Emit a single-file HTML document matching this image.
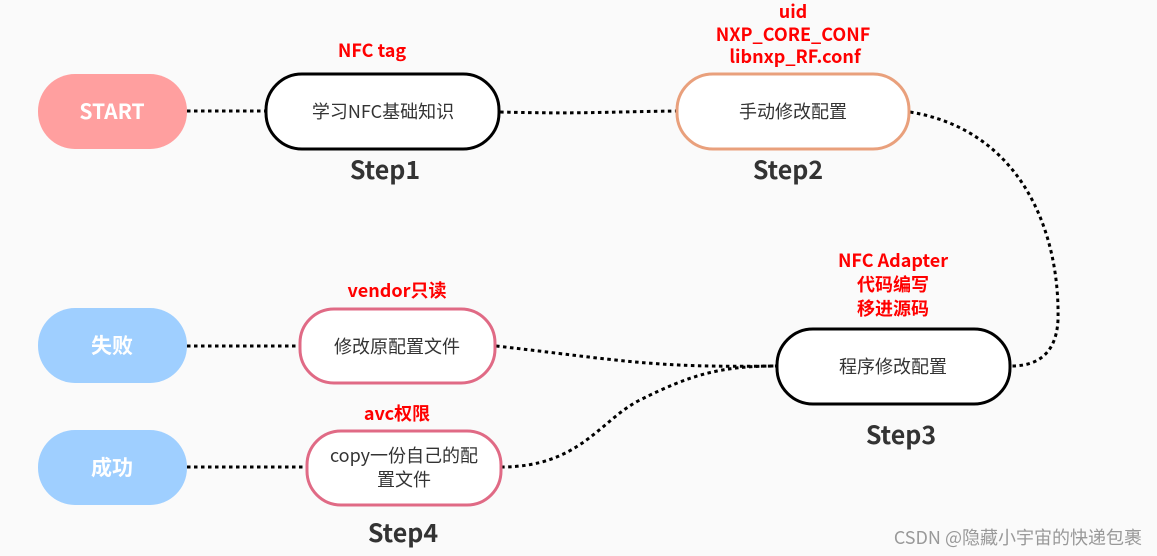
<!DOCTYPE html>
<html><head><meta charset="utf-8"><style>
html,body{margin:0;padding:0;background:#fafafa;}
svg{display:block;font-family:"Noto Sans CJK SC","Liberation Sans",sans-serif;}
.r{fill:#ff0000;font-weight:bold;font-size:18px;text-anchor:middle;}
.s{fill:#333;font-weight:bold;font-size:25px;text-anchor:middle;}
.n{fill:#333;font-size:18px;text-anchor:middle;}
.w{fill:#fff;font-weight:bold;font-size:21px;text-anchor:middle;}
.d{fill:none;stroke:#000;stroke-width:3;stroke-dasharray:3.5 3.5;}
</style></head><body>
<svg width="1157" height="556" viewBox="0 0 1157 556">
<rect width="1157" height="556" fill="#fafafa"/>
<path class="d" d="M187 111 L265 111"/>
<path class="d" d="M500 112 C580 114 600 112 676 111"/>
<path class="d" d="M910 112 C1020 130 1060 230 1058 320 C1056 360 1030 366 1011 366"/>
<path class="d" d="M496 346 C620 360 650 368 776 366"/>
<path class="d" d="M501 467 C580 467 600 420 640 400 C690 375 720 366 776 366"/>
<path class="d" d="M187 346 L299 346"/>
<path class="d" d="M187 467 L306 467"/>
<rect x="38" y="74" width="149" height="75" rx="37" fill="#ff9f9f"/>
<text class="w" x="112" y="119">START</text>
<rect x="38" y="308" width="149" height="75" rx="37" fill="#9fcfff"/>
<text class="w" x="112" y="353">失败</text>
<rect x="38" y="430" width="149" height="75" rx="37" fill="#9fcfff"/>
<text class="w" x="112" y="475">成功</text>
<rect x="266" y="74" width="233" height="75" rx="36" fill="#fff" stroke="#000" stroke-width="3"/>
<text class="n" x="383" y="118">学习NFC基础知识</text>
<rect x="677" y="74" width="232" height="75" rx="36" fill="#fff" stroke="#e9a07c" stroke-width="3"/>
<text class="n" x="793" y="118">手动修改配置</text>
<rect x="777" y="329" width="233" height="75" rx="36" fill="#fff" stroke="#000" stroke-width="3"/>
<text class="n" x="893" y="373">程序修改配置</text>
<rect x="300" y="309" width="195" height="74" rx="34" fill="#fff" stroke="#e06a85" stroke-width="3"/>
<text class="n" x="397" y="353">修改原配置文件</text>
<rect x="307" y="431" width="194" height="74" rx="34" fill="#fff" stroke="#e06a85" stroke-width="3"/>
<text class="n" x="404" y="462">copy一份自己的配</text>
<text class="n" x="404" y="486">置文件</text>
<text class="r" x="372" y="57">NFC tag</text>
<text class="r" x="793" y="18">uid</text>
<text class="r" x="793" y="41">NXP_CORE_CONF</text>
<text class="r" x="795" y="63">libnxp_RF.conf</text>
<text class="r" x="893" y="267">NFC Adapter</text>
<text class="r" x="893" y="291">代码编写</text>
<text class="r" x="893" y="315">移进源码</text>
<text class="r" x="397" y="297">vendor只读</text>
<text class="r" x="397" y="420">avc权限</text>
<text class="s" x="385" y="179">Step1</text>
<text class="s" x="788" y="179">Step2</text>
<text class="s" x="901" y="444">Step3</text>
<text class="s" x="403" y="542">Step4</text>
<text x="1142" y="544" fill="#999" font-size="18" text-anchor="end">CSDN @隐藏小宇宙的快递包裹</text>
</svg>
</body></html>
